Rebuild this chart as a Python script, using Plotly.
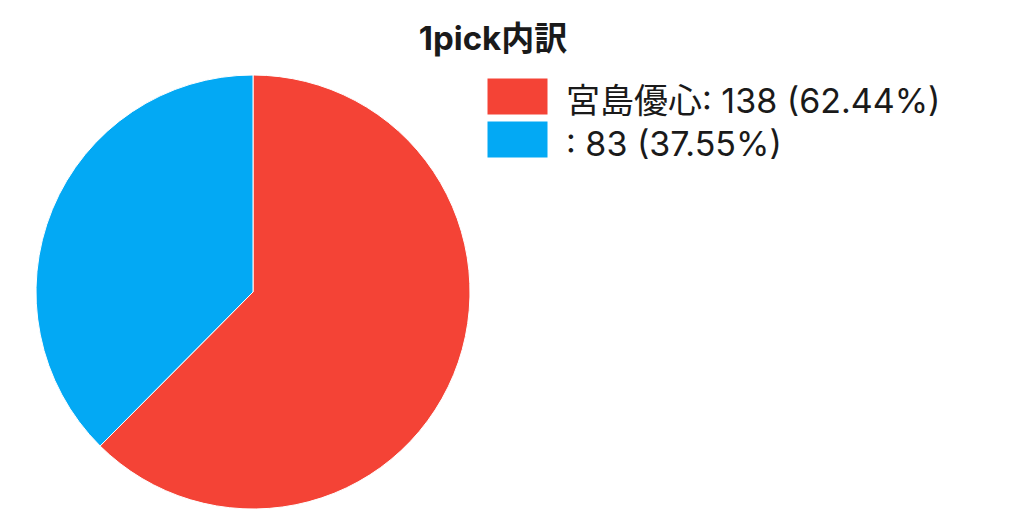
import math
import plotly.graph_objects as go

# 1pick breakdown
title = "1pick内訳"
names = ["宮島優心", ""]
counts = [138, 83]
colors = ["#F44336", "#03A9F4"]

total = sum(counts)
# percentages shown truncated to 2 decimals
pcts = [math.floor(c / total * 10000) / 100 for c in counts]
legend_labels = [f"{n}: {c} ({p:.2f}%)" for n, c, p in zip(names, counts, pcts)]

W, H = 1024, 512
# page body has an 8px margin, positions below are in div pixels
FONT = "Inter, Noto Sans CJK JP"

fig = go.Figure()

fig.add_trace(go.Pie(
    labels=legend_labels,
    values=counts,
    sort=False,
    direction="clockwise",
    rotation=0,
    marker=dict(colors=colors, line=dict(color="white", width=1)),
    textinfo="none",
    hoverinfo="label",
    showlegend=False,
    domain=dict(x=[28 / W, 462 / W], y=[1 - 501 / H, 1 - 67 / H]),
))

# legend drawn by hand, big colour boxes like the original
box_x0, box_x1 = 479, 540
row_top = [70, 113]
box_h = 37
for i, lab in enumerate(legend_labels):
    y0 = row_top[i]
    fig.add_shape(
        type="rect", xref="paper", yref="paper",
        x0=box_x0 / W, x1=box_x1 / W,
        y0=1 - (y0 + box_h) / H, y1=1 - y0 / H,
        fillcolor=colors[i], line=dict(color="white", width=1),
    )
    fig.add_annotation(
        x=556 / W, y=1 - (y0 + box_h / 2 + 4) / H,
        xref="paper", yref="paper",
        xanchor="left", yanchor="middle",
        text=lab, showarrow=False,
        font=dict(size=34, color="#1a1a1a", family=FONT),
    )

fig.update_layout(
    width=W, height=H,
    margin=dict(l=0, r=0, t=0, b=0),
    paper_bgcolor="white",
    plot_bgcolor="white",
    title=dict(
        text=f"<b>{title}</b>",
        x=485 / W, xanchor="center",
        y=1 - 30 / H, yanchor="middle",
        font=dict(size=33, color="#1a1a1a", family=FONT),
    ),
)

fig.write_html("out.html")
